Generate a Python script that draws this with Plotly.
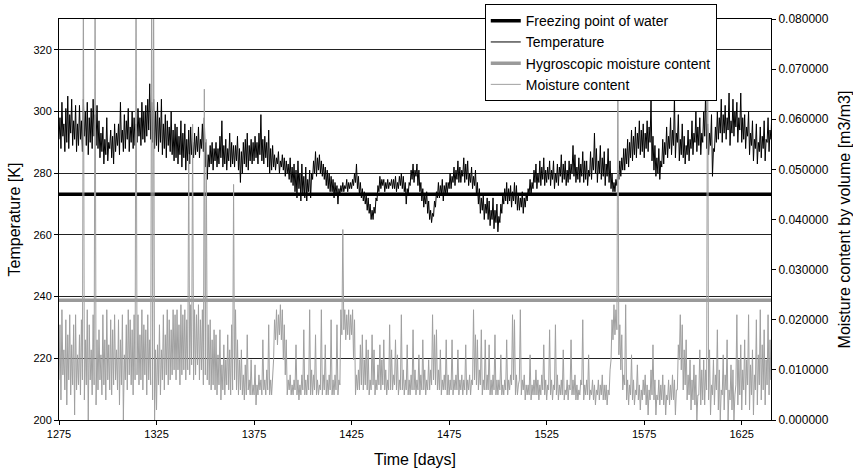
import plotly.graph_objects as go

start_day = 1275
end_day = 1640

# daily minimum / maximum temperature [K], days 1275..1640
temp_daily_min = [
    291, 288, 292, 287, 290, 288, 293, 289, 291, 287,
    289, 291, 287, 292, 289, 286, 290, 288, 292, 289,
    288, 285, 287, 283, 286, 284, 288, 285, 283, 287,
    289, 286, 290, 287, 288, 291, 287, 290, 288, 289,
    290, 292, 289, 291, 290, 292, 294, 291, 290, 288,
    289, 287, 290, 286, 288, 285, 289, 287, 286, 284,
    285, 283, 286, 282, 285, 281, 284, 283, 286, 285,
    286, 287, 285, 288, 287, 282, 278, 282, 283, 281,
    284, 282, 283, 285, 282, 283, 281, 284, 282, 283,
    282, 284, 281, 277, 280, 283, 282, 281, 284, 283,
    284, 285, 283, 286, 284, 283, 285, 282, 280, 281,
    282, 281, 283, 280, 282, 281, 279, 280, 278, 277,
    276, 274, 272, 275, 271, 273, 272, 271, 274, 272,
    278, 280, 279, 281, 280, 279, 278, 276, 275, 274,
    274, 272, 273, 270, 273, 274, 274, 275, 274, 275,
    275, 276, 277, 275, 273, 272, 271, 270, 268, 267,
    265, 265, 267, 271, 274, 275, 276, 274, 275, 275,
    276, 275, 275, 274, 275, 276, 275, 274, 270, 273,
    276, 278, 277, 279, 276, 274, 271, 269, 270, 267,
    265, 264, 266, 269, 272, 272, 273, 271, 273, 273,
    275, 275, 277, 276, 278, 277, 277, 279, 277, 278,
    276, 277, 275, 276, 273, 270, 267, 268, 265, 267,
    265, 263, 265, 262, 264, 261, 264, 267, 270, 271,
    270, 271, 269, 271, 270, 268, 268, 269, 267, 269,
    271, 273, 273, 275, 277, 275, 277, 276, 278, 276,
    277, 278, 276, 278, 275, 277, 276, 279, 277, 278,
    276, 277, 278, 280, 279, 277, 278, 277, 279, 277,
    278, 276, 279, 278, 281, 280, 277, 280, 278, 279,
    276, 279, 277, 275, 274, 274, 276, 278, 279, 281,
    281, 283, 282, 285, 284, 286, 285, 288, 286, 287,
    285, 288, 287, 290, 284, 281, 279, 280, 278, 282,
    283, 286, 285, 288, 286, 289, 285, 290, 284, 286,
    285, 283, 286, 284, 288, 286, 290, 287, 289, 286,
    290, 292, 288, 286, 289, 279, 287, 290, 291, 293,
    290, 293, 291, 294, 289, 293, 292, 295, 290, 294,
    290, 291, 288, 292, 286, 289, 284, 288, 283, 287,
    285, 288, 284, 290, 287, 291,
]
temp_daily_max = [
    298, 303, 296, 301, 305, 299, 304, 297, 302, 296,
    302, 297, 304, 300, 303, 298, 301, 304, 299, 302,
    297, 293, 295, 291, 298, 290, 294, 292, 296, 293,
    296, 303, 294, 299, 297, 301, 295, 300, 298, 296,
    301, 298, 303, 300, 302, 304, 309, 303, 304, 300,
    303, 298, 304, 296, 299, 297, 295, 300, 294, 296,
    295, 292, 297, 293, 296, 291, 294, 295, 290, 293,
    292, 295, 291, 296, 298, 290, 286, 289, 290, 288,
    290, 288, 292, 297, 289, 291, 288, 293, 290, 289,
    289, 292, 288, 287, 290, 291, 293, 289, 291, 290,
    292, 290, 293, 299, 291, 292, 290, 294, 288, 289,
    286, 285, 287, 284, 286, 285, 284, 283, 285, 282,
    283, 281, 284, 280, 283, 279, 282, 278, 281, 280,
    284, 287, 285, 286, 284, 283, 282, 281, 280, 279,
    278, 277, 276, 275, 276, 277, 276, 278, 277, 277,
    278, 280, 283, 279, 277, 275, 274, 273, 272, 270,
    268, 269, 272, 276, 279, 278, 278, 277, 278, 277,
    278, 278, 279, 277, 279, 280, 279, 277, 275, 277,
    281, 283, 281, 283, 281, 277, 275, 273, 274, 271,
    268, 267, 271, 274, 277, 276, 278, 276, 277, 277,
    280, 279, 282, 281, 284, 282, 281, 285, 283, 284,
    280, 282, 279, 281, 277, 275, 272, 273, 270, 272,
    271, 268, 272, 268, 270, 266, 270, 273, 275, 277,
    275, 276, 274, 277, 276, 273, 272, 274, 272, 273,
    275, 278, 277, 281, 283, 280, 284, 282, 285, 281,
    282, 284, 281, 284, 280, 283, 282, 286, 283, 284,
    281, 284, 283, 289, 286, 282, 285, 283, 287, 284,
    284, 281, 287, 285, 293, 288, 284, 289, 285, 287,
    283, 288, 284, 280, 277, 278, 281, 284, 285, 288,
    288, 291, 290, 294, 292, 295, 293, 297, 294, 296,
    293, 297, 295, 304, 292, 289, 285, 288, 284, 291,
    290, 295, 292, 298, 294, 305, 293, 299, 291, 296,
    292, 289, 294, 291, 297, 293, 300, 295, 298, 293,
    300, 307, 296, 293, 299, 288, 295, 300, 298, 304,
    299, 302, 298, 306, 297, 304, 300, 303, 298, 306,
    298, 299, 295, 300, 293, 297, 291, 296, 290, 295,
    292, 297, 291, 298, 294, 302,
]

# daily minimum / maximum volumetric moisture content [m3/m3]
moisture_daily_min = [
    0.008, 0.004, 0.009, 0.006, 0.003, 0.008, 0.005, 0.007, 0.001, 0.006,
    0.007, 0.005, 0.008, 0.004, 0.007, 0.000, 0.008, 0.005, 0.007, 0.003,
    0.006, 0.008, 0.005, 0.007, 0.004, 0.008, 0.006, 0.005, 0.007, 0.008,
    0.006, 0.003, 0.007, 0.000, 0.008, 0.006, 0.009, 0.007, 0.005, 0.008,
    0.009, 0.007, 0.008, 0.006, 0.009, 0.005, 0.008, 0.007, 0.004, 0.000,
    0.002, 0.007, 0.005, 0.008, 0.006, 0.009, 0.007, 0.008, 0.009, 0.010,
    0.008, 0.010, 0.007, 0.009, 0.010, 0.008, 0.010, 0.009, 0.011, 0.008,
    0.009, 0.011, 0.008, 0.010, 0.007, 0.009, 0.008, 0.007, 0.006, 0.007,
    0.006, 0.005, 0.007, 0.004, 0.006, 0.005, 0.007, 0.006, 0.005, 0.006,
    0.008, 0.006, 0.005, 0.006, 0.005, 0.004, 0.005, 0.006, 0.005, 0.005,
    0.005, 0.003, 0.005, 0.006, 0.005, 0.006, 0.005, 0.006, 0.005, 0.005,
    0.012, 0.016, 0.015, 0.017, 0.016, 0.012, 0.009, 0.005, 0.006, 0.005,
    0.005, 0.006, 0.005, 0.004, 0.005, 0.006, 0.005, 0.005, 0.006, 0.005,
    0.005, 0.006, 0.005, 0.005, 0.006, 0.005, 0.006, 0.005, 0.005, 0.006,
    0.005, 0.005, 0.006, 0.005, 0.007, 0.017, 0.018, 0.016, 0.017, 0.016,
    0.017, 0.012, 0.005, 0.006, 0.006, 0.007, 0.006, 0.007, 0.006, 0.005,
    0.006, 0.007, 0.005, 0.006, 0.007, 0.006, 0.007, 0.006, 0.005, 0.006,
    0.006, 0.006, 0.007, 0.006, 0.005, 0.006, 0.006, 0.005, 0.006, 0.005,
    0.005, 0.006, 0.006, 0.005, 0.006, 0.005, 0.006, 0.006, 0.005, 0.006,
    0.006, 0.007, 0.008, 0.007, 0.006, 0.006, 0.005, 0.006, 0.006, 0.005,
    0.005, 0.006, 0.005, 0.006, 0.006, 0.005, 0.006, 0.005, 0.006, 0.005,
    0.006, 0.005, 0.007, 0.008, 0.007, 0.006, 0.007, 0.005, 0.006, 0.006,
    0.006, 0.005, 0.005, 0.006, 0.005, 0.005, 0.006, 0.005, 0.005, 0.006,
    0.005, 0.006, 0.007, 0.008, 0.005, 0.005, 0.008, 0.005, 0.006, 0.004,
    0.005, 0.005, 0.004, 0.005, 0.005, 0.005, 0.004, 0.005, 0.006, 0.005,
    0.004, 0.006, 0.005, 0.004, 0.006, 0.005, 0.004, 0.005, 0.005, 0.004,
    0.005, 0.004, 0.006, 0.005, 0.005, 0.004, 0.004, 0.005, 0.007, 0.004,
    0.005, 0.005, 0.004, 0.005, 0.004, 0.003, 0.005, 0.004, 0.005, 0.004,
    0.004, 0.003, 0.005, 0.012, 0.016, 0.017, 0.018, 0.013, 0.010, 0.006,
    0.007, 0.004, 0.003, 0.005, 0.004, 0.003, 0.005, 0.004, 0.002, 0.004,
    0.005, 0.003, 0.001, 0.004, 0.005, 0.004, 0.001, 0.004, 0.003, 0.004,
    0.003, 0.001, 0.004, 0.003, 0.004, 0.004, 0.001, 0.006, 0.012, 0.010,
    0.006, 0.007, 0.004, 0.005, 0.002, 0.004, 0.003, 0.000, 0.005, 0.003,
    0.004, 0.003, 0.006, 0.004, 0.001, 0.005, 0.003, 0.006, 0.002, 0.000,
    0.005, 0.002, 0.006, 0.000, 0.004, 0.002, 0.000, 0.007, 0.003, 0.005,
    0.002, 0.006, 0.003, 0.007, 0.002, 0.005, 0.001, 0.006, 0.003, 0.007,
    0.004, 0.006, 0.003, 0.007, 0.005, 0.008,
]
moisture_daily_max = [
    0.019, 0.022, 0.014, 0.020, 0.017, 0.021, 0.015, 0.019, 0.021, 0.013,
    0.017, 0.020, 0.090, 0.016, 0.022, 0.019, 0.014, 0.021, 0.090, 0.016,
    0.018, 0.013, 0.021, 0.016, 0.022, 0.015, 0.020, 0.018, 0.021, 0.014,
    0.020, 0.016, 0.021, 0.013, 0.019, 0.022, 0.020, 0.018, 0.021, 0.090,
    0.021, 0.017, 0.022, 0.019, 0.018, 0.021, 0.016, 0.090, 0.090, 0.014,
    0.015, 0.019, 0.014, 0.021, 0.017, 0.022, 0.020, 0.018, 0.022, 0.021,
    0.022, 0.019, 0.023, 0.021, 0.022, 0.020, 0.053, 0.023, 0.059, 0.022,
    0.021, 0.023, 0.020, 0.022, 0.066, 0.056, 0.019, 0.020, 0.016, 0.018,
    0.017, 0.013, 0.018, 0.011, 0.015, 0.012, 0.017, 0.014, 0.019, 0.047,
    0.022, 0.016, 0.012, 0.014, 0.009, 0.011, 0.017, 0.008, 0.012, 0.007,
    0.011, 0.007, 0.009, 0.008, 0.016, 0.008, 0.010, 0.019, 0.008, 0.009,
    0.020, 0.022, 0.021, 0.023, 0.022, 0.019, 0.016, 0.008, 0.009, 0.007,
    0.008, 0.015, 0.008, 0.007, 0.009, 0.018, 0.008, 0.009, 0.022, 0.010,
    0.009, 0.017, 0.008, 0.007, 0.022, 0.009, 0.015, 0.008, 0.009, 0.020,
    0.008, 0.009, 0.019, 0.008, 0.022, 0.038, 0.022, 0.021, 0.022, 0.021,
    0.022, 0.020, 0.009, 0.010, 0.015, 0.017, 0.012, 0.016, 0.014, 0.008,
    0.017, 0.014, 0.008, 0.011, 0.015, 0.012, 0.016, 0.010, 0.008, 0.019,
    0.014, 0.009, 0.016, 0.013, 0.008, 0.021, 0.010, 0.008, 0.015, 0.008,
    0.009, 0.018, 0.010, 0.008, 0.013, 0.009, 0.016, 0.010, 0.008, 0.012,
    0.010, 0.021, 0.017, 0.018, 0.010, 0.014, 0.008, 0.009, 0.016, 0.009,
    0.008, 0.016, 0.008, 0.009, 0.014, 0.008, 0.009, 0.008, 0.015, 0.008,
    0.009, 0.008, 0.022, 0.017, 0.016, 0.010, 0.018, 0.008, 0.016, 0.009,
    0.015, 0.008, 0.009, 0.017, 0.008, 0.008, 0.013, 0.007, 0.008, 0.016,
    0.008, 0.009, 0.021, 0.020, 0.009, 0.007, 0.022, 0.008, 0.009, 0.007,
    0.007, 0.013, 0.007, 0.008, 0.010, 0.008, 0.007, 0.009, 0.015, 0.008,
    0.007, 0.018, 0.008, 0.007, 0.019, 0.009, 0.007, 0.008, 0.014, 0.006,
    0.008, 0.007, 0.016, 0.008, 0.009, 0.007, 0.006, 0.008, 0.020, 0.007,
    0.008, 0.013, 0.006, 0.008, 0.007, 0.006, 0.008, 0.007, 0.009, 0.007,
    0.007, 0.006, 0.010, 0.020, 0.023, 0.022, 0.075, 0.019, 0.017, 0.009,
    0.023, 0.008, 0.007, 0.013, 0.008, 0.006, 0.011, 0.007, 0.006, 0.008,
    0.009, 0.007, 0.006, 0.010, 0.015, 0.008, 0.005, 0.008, 0.007, 0.009,
    0.007, 0.005, 0.008, 0.007, 0.009, 0.008, 0.006, 0.015, 0.021, 0.019,
    0.014, 0.016, 0.009, 0.012, 0.008, 0.011, 0.009, 0.005, 0.014, 0.010,
    0.012, 0.010, 0.090, 0.014, 0.007, 0.012, 0.009, 0.018, 0.010, 0.006,
    0.013, 0.009, 0.016, 0.006, 0.011, 0.010, 0.005, 0.021, 0.012, 0.015,
    0.010, 0.016, 0.012, 0.021, 0.011, 0.014, 0.009, 0.020, 0.013, 0.022,
    0.015, 0.018, 0.012, 0.021, 0.016, 0.023,
]

freezing_point = 273.15
hygroscopic_mc = 0.0239

x_ticks = [1275, 1325, 1375, 1425, 1475, 1525, 1575, 1625]
y_ticks = [200, 220, 240, 260, 280, 300, 320]
y2_ticks = [0.0, 0.01, 0.02, 0.03, 0.04, 0.05, 0.06, 0.07, 0.08]

# interleave daily minima and maxima into one sub-daily series
def interleave(day0, lows, highs):
    xs, ys = [], []
    for i, (lo, hi) in enumerate(zip(lows, highs)):
        xs += [day0 + i, day0 + i + 0.5]
        ys += [lo, hi]
    return xs, ys

t_x, t_y = interleave(start_day, temp_daily_min, temp_daily_max)
m_x, m_y = interleave(start_day, moisture_daily_min, moisture_daily_max)

FONT = "Liberation Sans, Arial, sans-serif"

fig = go.Figure()
fig.add_trace(go.Scatter(
    x=[start_day, end_day], y=[freezing_point, freezing_point],
    mode="lines", name="Freezing point of water",
    line=dict(color="#000000", width=3.5)))
fig.add_trace(go.Scatter(
    x=t_x, y=t_y, mode="lines", name="Temperature",
    line=dict(color="#000000", width=1)))
fig.add_trace(go.Scatter(
    x=[start_day, end_day], y=[hygroscopic_mc, hygroscopic_mc],
    mode="lines", name="Hygroscopic moisture content", yaxis="y2",
    line=dict(color="#9a9a9a", width=3.5)))
fig.add_trace(go.Scatter(
    x=m_x, y=m_y, mode="lines", name="Moisture content",
    yaxis="y2", line=dict(color="#a0a0a0", width=1)))

fig.update_layout(
    width=853, height=471,
    margin=dict(l=59, r=82, t=19, b=51, autoexpand=False),
    paper_bgcolor="white", plot_bgcolor="white",
    font=dict(family=FONT, size=11, color="#000000"),
    showlegend=True,
    legend=dict(
        x=0.598, y=1.037, xanchor="left", yanchor="top",
        bgcolor="white", bordercolor="#000000", borderwidth=1,
        font=dict(family=FONT, size=14, color="#000000"),
        tracegroupgap=0, itemwidth=30,
    ),
    xaxis=dict(
        range=[start_day, end_day], tickvals=x_ticks,
        showgrid=False, zeroline=False,
        showline=True, linecolor="#000000", linewidth=1, mirror=True,
        ticks="outside", ticklen=4, tickcolor="#000000",
        tickfont=dict(family=FONT, size=11),
        title=dict(text="Time [days]", font=dict(family=FONT, size=16), standoff=14),
    ),
    yaxis=dict(
        range=[200, 330], tickvals=y_ticks,
        showgrid=True, gridcolor="#222222", gridwidth=1, zeroline=False,
        showline=True, linecolor="#000000", linewidth=1,
        ticks="outside", ticklen=4, tickcolor="#000000",
        tickfont=dict(family=FONT, size=11),
        title=dict(text="Temperature [K]", font=dict(family=FONT, size=16), standoff=8),
    ),
    yaxis2=dict(
        range=[0, 0.08], tickvals=y2_ticks, tickformat=".6f",
        overlaying="y", side="right",
        showgrid=False, zeroline=False,
        showline=True, linecolor="#000000", linewidth=1,
        ticks="outside", ticklen=4, tickcolor="#000000",
        tickfont=dict(family=FONT, size=12),
        title=dict(text="Moisture content by volume [m3/m3]", font=dict(family=FONT, size=16), standoff=11),
    ),
)

fig.write_html("out.html", config={"displayModeBar": False},
               post_script="document.body.style.margin='0';")
